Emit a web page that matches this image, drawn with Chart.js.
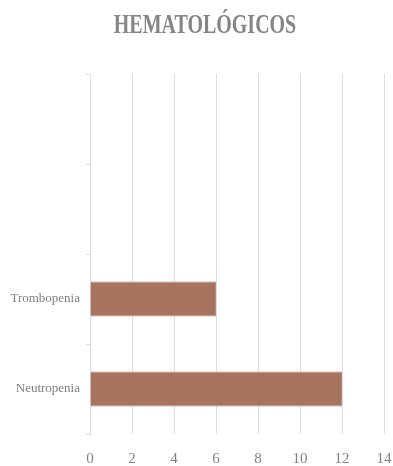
<!DOCTYPE html>
<html>
<head>
<meta charset="utf-8">
<script src="https://cdn.jsdelivr.net/npm/chart.js@4"></script>
<style>
  html, body { margin: 0; padding: 0; background: #fff; }
  #wrap { position: relative; width: 393px; height: 466px; }
  #title {
    position: absolute; left: 0; top: 8px; width: 410px; text-align: center;
    font-family: "Liberation Serif", serif; font-weight: bold; font-size: 27px;
    color: #858585; transform: scaleX(0.74); transform-origin: 205px 0;
    margin: 0; line-height: 32px;
  }
</style>
</head>
<body>
<div id="wrap">
  <h1 id="title">HEMATOLÓGICOS</h1>
  <canvas id="chart" width="393" height="466"></canvas>
</div>
<script>
// --- Data ---
const categories = ['', '', 'Trombopenia', 'Neutropenia'];
const values = [null, null, 6, 12];
const xTicks = [0, 2, 4, 6, 8, 10, 12, 14];

const serif = '"Liberation Serif", serif';

const ctx = document.getElementById('chart').getContext('2d');
new Chart(ctx, {
    type: 'bar',
    data: {
        labels: categories,
        datasets: [{
            data: values,
            backgroundColor: '#a5735e',
            borderColor: '#b88a76',
            borderWidth: 1,
            categoryPercentage: 1,
            barPercentage: 0.39
        }]
    },
    options: {
        indexAxis: 'y',
        responsive: false,
        animation: false,
        layout: { padding: { top: 74, right: 9, left: 0, bottom: 0 } },
        plugins: { legend: { display: false }, title: { display: false }, tooltip: { enabled: false } },
        scales: {
            x: {
                min: 0, max: 14,
                afterBuildTicks: (scale) => { scale.ticks = xTicks.map(v => ({ value: v })); },
                grid: { color: '#dedede', lineWidth: 1, drawTicks: false },
                border: { display: false },
                ticks: { color: '#808080', padding: 16, font: { family: serif, size: 15 } },
                afterFit: (scale) => { scale.height = 32; scale.paddingRight = 0; scale.paddingLeft = 0; }
            },
            y: {
                grid: { drawOnChartArea: false, color: '#dedede', tickLength: 4 },
                border: { display: true, color: '#dedede' },
                ticks: { color: '#808080', padding: 6, font: { family: serif, size: 13 } },
                afterFit: (scale) => { scale.width = 90; }
            }
        }
    }
});
</script>
</body>
</html>
